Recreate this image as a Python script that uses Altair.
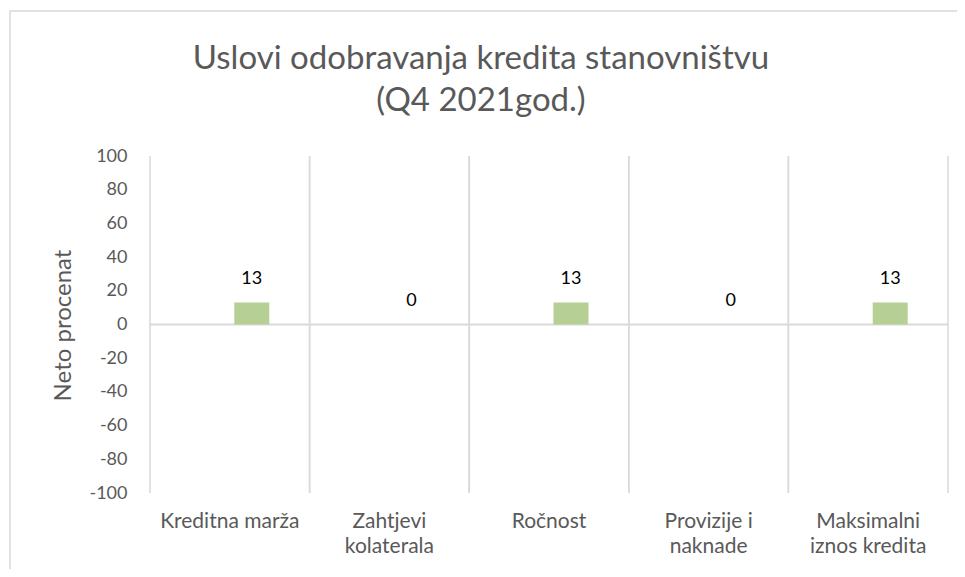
import altair as alt
import pandas as pd

categories = ["Kreditna marža", "Zahtjevi kolaterala", "Ročnost", "Provizije i naknade", "Maksimalni iznos kredita"]
label_lines = [["Kreditna marža"], ["Zahtjevi", "kolaterala"], ["Ročnost"], ["Provizije i", "naknade"], ["Maksimalni", "iznos kredita"]]
values = [13, 0, 13, 0, 13]
y_ticks = [-100, -80, -60, -40, -20, 0, 20, 40, 60, 80, 100]

df = pd.DataFrame({"cat": categories, "val": values})

FONT = "Lato"
GRAY = "#595959"
GRID = "#D9D9D9"
W, H = 798, 337

expr = ""
for c, lines in zip(categories, label_lines):
    arr = "[" + ",".join("'" + l + "'" for l in lines) + "]"
    expr += f"datum.label == '{c}' ? {arr} : "
expr += "datum.label"

xscale = alt.Scale(domain=categories, paddingInner=0, paddingOuter=0)
yscale = alt.Scale(domain=[-100, 100], nice=False)
base = alt.Chart(df)

xaxis = alt.Axis(
    title=None, domain=False, ticks=False, grid=False, labelAngle=0,
    labelFont=FONT, labelFontSize=21, labelColor=GRAY, labelPadding=17,
    labelLineHeight=25, labelExpr=expr, labelBaseline="top",
)

yaxis = alt.Axis(
    values=y_ticks, title="Neto procenat", domain=False, ticks=False, grid=False,
    labelFont=FONT, labelFontSize=18, labelColor=GRAY, labelPadding=23,
    labelOverlap=False, labelExpr="'' + datum.value",
    titleFont=FONT, titleFontSize=24, titleColor=GRAY, titleFontWeight="normal",
    titleX=-87, titleY=169, titleBaseline="middle", titleAngle=270,
)

grid_start = base.mark_rule(color=GRID, strokeWidth=1.5).encode(
    x=alt.X("cat:N", scale=xscale, bandPosition=0, axis=xaxis, sort=categories)
)
grid_end = base.mark_rule(color=GRID, strokeWidth=1.5).encode(
    x=alt.X("cat:N", scale=xscale, bandPosition=1, sort=categories)
)

zero = alt.Chart(pd.DataFrame({"z": [0]})).mark_rule(color=GRID, strokeWidth=2).encode(
    y=alt.Y("z:Q", scale=yscale, axis=yaxis)
)

bars = base.mark_bar(color="#B5CF95", size=35, xOffset=22).encode(
    x=alt.X("cat:N", scale=xscale, sort=categories),
    y=alt.Y("val:Q", scale=yscale, axis=yaxis),
)
labels = base.mark_text(font=FONT, fontSize=18, color="#000000", xOffset=22, dy=-24, baseline="middle").encode(
    x=alt.X("cat:N", scale=xscale, sort=categories),
    y=alt.Y("val:Q", scale=yscale, axis=yaxis),
    text=alt.Text("val:Q"),
)

border = alt.Chart(pd.DataFrame({"b": [0]})).mark_rect(fill=None, stroke=GRID, strokeWidth=1.5).encode(
    x=alt.value(-140), x2=alt.value(830), y=alt.value(-145), y2=alt.value(500)
)

chart = alt.layer(border, grid_start, grid_end, zero, bars, labels).properties(
    width=W, height=H,
    autosize=alt.AutoSizeParams(type="none"),
    padding={"left": 142, "top": 148, "right": 9, "bottom": 76},
    title=alt.TitleParams(
        text=["Uslovi odobravanja kredita stanovništvu", "(Q4 2021god.)"],
        font=FONT, fontSize=33, fontWeight="normal", color=GRAY, lineHeight=42,
        anchor="middle", dx=-68, offset=-134, baseline="alphabetic",
    ),
).configure_view(stroke=None).resolve_scale(y="shared")

chart.save("out.html", embed_options={"renderer": "svg", "actions": False})
